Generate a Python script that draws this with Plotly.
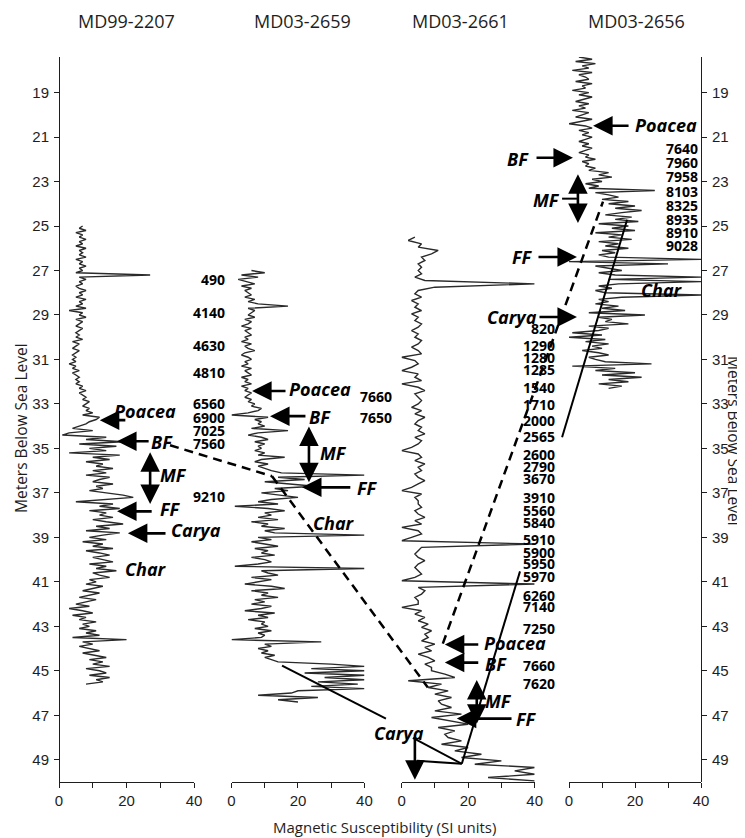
import plotly.graph_objects as go

# ---------------- data ----------------
CORE_NAMES = ["MD99-2207", "MD03-2659", "MD03-2661", "MD03-2656"]
CORE_TOP = [25.0, 27.0, 25.5, 17.4]      # depth of first sample (m below sea level)
SAMPLE_STEP = [0.1, 0.1, 0.15, 0.1]      # sampling interval of each core (m)

MS_MD99_2207 = [
    7, 6, 8, 5, 7, 6, 8, 6, 7, 5,
    8, 6, 7, 6, 8, 5, 7, 6, 8, 6,
    7, 5, 27, 6, 8, 6, 7, 5, 6, 8,
    6, 7, 5, 8, 6, 7, 5, 8, 3, 7,
    6, 8, 5, 7, 6, 5, 7, 6, 5, 6,
    5, 7, 4, 6, 5, 4, 6, 5, 4, 5,
    4, 5, 3, 5, 4, 6, 4, 5, 6, 5,
    6, 5, 7, 6, 8, 6, 7, 8, 7, 9,
    8, 7, 9, 8, 10, 7, 12, 11, 9, 8,
    6, 4, 10, 3, 1, 14, 8, 19, 6, 17,
    9, 14, 3, 18, 10, 15, 8, 13, 11, 16,
    10, 14, 8, 15, 12, 10, 16, 11, 13, 9,
    14, 19, 22, 12, 5, 16, 12, 18, 9, 14,
    12, 16, 10, 14, 19, 11, 15, 8, 18, 13,
    9, 14, 7, 13, 10, 16, 8, 12, 15, 10,
    13, 16, 9, 14, 11, 17, 10, 12, 15, 9,
    11, 8, 13, 10, 7, 12, 9, 6, 11, 8,
    5, 9, 3, 7, 10, 4, 8, 6, 11, 7,
    9, 6, 11, 8, 12, 4, 20, 7, 10, 6,
    9, 12, 7, 11, 14, 9, 13, 10, 15, 8,
    12, 14, 9, 15, 11, 13, 8,
]
MS_MD03_2659 = [
    6, 10, 3, 8, 2, 5, 7, 3, 6, 4,
    5, 6, 4, 7, 5, 8, 17, 5, 7, 6,
    5, 7, 4, 6, 5, 3, 6, 4, 5, 6,
    4, 5, 3, 6, 4, 5, 7, 4, 3, 5,
    6, 4, 5, 3, 6, 4, 5, 6, 3, 5,
    4, 6, 3, 5, 4, 6, 5, 4, 6, 5,
    7, 6, 9, 8, 5, 0, 11, 7, 9, 8,
    10, 6, 17, 8, 5, 9, 11, 7, 10, 8,
    9, 7, 10, 8, 16, 9, 7, 11, 8, 10,
    12, 15, 40, 14, 22, 10, 18, 25, 13, 17,
    9, 15, 20, 12, 8, 14, 1, 11, 16, 10,
    12, 8, 14, 6, 11, 9, 16, 10, 13, 40,
    8, 12, 6, 10, 14, 7, 11, 9, 13, 6,
    10, 12, 8, 1, 40, 9, 11, 14, 6, 12,
    8, 4, 12, 16, 6, 11, 9, 14, 7, 10,
    6, 12, 9, 4, 13, 8, 11, 5, 10, 9,
    11, 7, 12, 8, 10, 9, 0, 27, 10, 12,
    8, 11, 9, 13, 10, 12, 14, 30, 40, 24,
    40, 22, 40, 28, 40, 26, 38, 24, 40, 20,
    18, 8, 26, 14, 20,
]
MS_MD03_2661 = [
    4, 2, 6, 5, 11, 9, 6, 7, 5, 6,
    5, 6, 4, 7, 40, 10, 5, 4, 6, 3,
    5, 4, 6, 3, 5, 4, 6, 5, 3, 5,
    4, 6, 5, 3, 5, 6, 0, 4, 5, 3,
    0, 5, 4, 6, 0, 5, 7, 4, 5, 6,
    5, 3, 6, 4, 7, 5, 4, 6, 5, 7,
    4, 6, 5, 3, 0, 5, 6, 4, 7, 5,
    6, 4, 5, 7, 5, 3, 0, 6, 4, 5,
    5, 6, 4, 5, 7, 4, 6, 0, 5, 6,
    3, 0, 40, 6, 5, 4, 5, 7, 5, 4,
    5, 6, 4, 0, 40, 5, 7, 6, 4, 5,
    5, 0, 6, 4, 7, 5, 8, 6, 9, 7,
    8, 6, 10, 7, 9, 5, 8, 10, 7, 9,
    9, 13, 16, 2, 12, 8, 14, 10, 15, 11,
    12, 15, 10, 18, 9, 14, 20, 11, 16, 13,
    14, 18, 12, 20, 16, 24, 18, 30, 22, 40,
    34, 40, 26, 40,
]
MS_MD03_2656 = [
    3, 7, 2, 8, 4, 6, 1, 7, 3, 5,
    6, 2, 7, 4, 5, 1, 6, 3, 7, 4,
    2, 6, 3, 5, 1, 6, 4, 2, 7, 3,
    0, 5, 7, 3, 6, 4, 7, 5, 3, 6,
    4, 7, 5, 3, 6, 5, 8, 4, 6, 5,
    8, 6, 12, 9, 13, 7, 10, 5, 9, 6,
    26, 8, 12, 15, 10, 18, 12, 20, 14, 22,
    16, 11, 19, 14, 21, 9, 18, 13, 20, 8,
    16, 12, 19, 9, 15, 11, 18, 10, 14, 9,
    12, 40, 0, 30, 8, 12, 16, 9, 14, 40,
    12, 40, 15, 9, 13, 8, 11, 40, 16, 9,
    12, 8, 15, 10, 17, 6, 23, 9, 13, 11,
    18, 6, 12, 9, 1, 10, 0, 11, 5, 12,
    7, 10, 4, 9, 12, 6, 8, 11, 25, 1,
    14, 8, 20, 10, 22, 12, 18, 9, 16, 12,
]
MS_SERIES = [MS_MD99_2207, MS_MD03_2659, MS_MD03_2661, MS_MD03_2656]

DEPTH_RANGE = [50.0, 17.4]
DEPTH_TICKS = list(range(19, 50, 2))
MS_RANGE = [0, 40]
MS_TICKS = [0, 10, 20, 30, 40]
MS_TICK_TEXT = ["0", "", "20", "", "40"]

# radiocarbon ages (label, depth)
DATES_2659 = [("490", 27.42), ("4140", 28.91), ("4630", 30.35), ("4810", 31.57),
              ("6560", 32.96), ("6900", 33.59), ("7025", 34.18), ("7560", 34.77),
              ("9210", 37.15)]
DATES_2661_TOP = [("7660", 32.65), ("7650", 33.60)]
DATES_2661 = [("820", 29.59), ("1290", 30.35), ("1280", 30.89), ("1285", 31.43),
              ("1540", 32.24), ("1710", 33.01), ("2000", 33.73), ("2565", 34.45),
              ("2600", 35.26), ("2790", 35.80), ("3670", 36.34), ("3910", 37.20),
              ("5560", 37.78), ("5840", 38.32), ("5910", 39.09), ("5900", 39.68),
              ("5950", 40.17), ("5970", 40.76), ("6260", 41.61), ("7140", 42.11),
              ("7250", 43.10), ("7660", 44.77), ("7620", 45.58)]
DATES_2656 = [("7640", 21.52), ("7960", 22.15), ("7958", 22.78), ("8103", 23.46),
              ("8325", 24.09), ("8935", 24.72), ("8910", 25.31), ("9028", 25.89)]

# pollen / zone markers: (panel, head value, head depth, tail value, tail depth)
ARROWS = [
    (0, 12.1, 33.73, 20.1, 33.73), (0, 17.2, 34.68, 27.0, 34.68),
    (0, 17.2, 37.83, 27.9, 37.83), (0, 20.4, 38.82, 32.0, 38.82),
    (1, 6.2, 32.42, 16.7, 32.42), (1, 11.6, 33.55, 22.7, 33.55),
    (1, 21.2, 36.75, 36.2, 36.75),
    (2, 13.0, 43.82, 23.5, 43.82), (2, 13.0, 44.63, 23.5, 44.63),
    (2, 16.6, 47.15, 33.5, 47.15), (2, 4.0, 49.9, 4.0, 48.0),
    (3, 7.3, 20.49, 18.5, 20.49), (3, 1.2, 21.93, -10.3, 21.93),
    (3, 2.4, 26.39, -9.7, 26.39), (3, 2.4, 29.09, -9.4, 29.09),
]
# MF double arrows: (panel, value, depth top, depth bottom)
DOUBLE_ARROWS = [(0, 27.0, 35.1, 37.5), (1, 23.3, 33.95, 36.52),
                 (2, 22.6, 45.35, 47.38), (3, 2.7, 22.6, 24.86)]
LABELS = [
    (0, "Poacea", 25.6, 33.32), (0, "BF", 30.5, 34.72), (0, "MF", 33.8, 36.2),
    (0, "FF", 32.9, 37.74), (0, "Carya", 40.6, 38.68), (0, "Char", 25.8, 40.4),
    (1, "Poacea", 26.6, 32.33), (1, "BF", 26.6, 33.59), (1, "MF", 30.8, 35.2),
    (1, "FF", 40.8, 36.8), (1, "Char", 30.8, 38.37),
    (2, "Poacea", 34.1, 43.77), (2, "BF", 28.3, 44.68), (2, "MF", 29.0, 46.35),
    (2, "FF", 37.4, 47.15), (2, "Carya", -0.8, 47.78),
    (3, "Poacea", 29.4, 20.44), (3, "BF", -15.5, 21.97), (3, "MF", -6.7, 23.82),
    (3, "FF", -14.2, 26.39), (3, "Carya", -17.3, 29.09), (3, "Char", 28.2, 27.87),
]
# correlation lines: list of (panel, value, depth) vertices
DASHED_LINES = [
    [(0, 32.9, 34.86), (1, 12.2, 36.25), (2, 7.9, 45.75)],
    [(2, 12.4, 43.78), (3, 10.3, 23.9)],
]
SOLID_LINES = [
    [(1, 15.2, 44.77), (2, -4.7, 47.15)],
    [(2, 3.4, 48.02), (2, 18.1, 49.18)],
    [(2, 4.6, 49.05), (2, 18.1, 49.18)],
    [(2, 18.1, 49.18), (2, 35.6, 40.53)],
    [(3, -2.1, 34.5), (3, 17.6, 24.72)],
    [(3, -2.1, 23.77), (3, 2.4, 23.77)],
]

# ---------------- layout helpers ----------------
PAGE_W, PAGE_H, BODY = 745, 838, 8          # page size and default html body margin
PLOT_L, PLOT_R, PLOT_T, PLOT_B = 59, 701, 57, 782   # plot area in page pixels
W, H = PAGE_W - BODY, PAGE_H - BODY
ML, MT = PLOT_L - BODY, PLOT_T - BODY
MR, MB = W - (PLOT_R - BODY), H - (PLOT_B - BODY)
PW, PH = PLOT_R - PLOT_L, PLOT_B - PLOT_T
DOMAINS = [(0.0, 0.2103), (0.2687, 0.4758), (0.5336, 0.7409), (0.7944, 1.0)]
INK = "#1e1e1e"

TICK_FONT = dict(family="Liberation Sans Narrow, Arial Narrow, Liberation Sans, sans-serif", size=15, color=INK)
TITLE_FONT = dict(family="Open Sans, Noto Sans, sans-serif", size=18, color=INK)
AXTITLE_FONT = dict(family="Open Sans, Noto Sans, sans-serif", size=15, color=INK)
YTITLE_FONT = dict(family="Open Sans, Noto Sans, sans-serif", size=15.5, color=INK)
LABEL_FONT = dict(family="Open Sans, Noto Sans, sans-serif", size=18, color="black", weight=700, style="italic")
DATE_FONT = dict(family="Open Sans, Noto Sans, sans-serif", size=14, color="black", weight=700)


def xname(i):
    return "x" if i == 0 else f"x{i + 1}"


def paper_x(i, v):
    a, b = DOMAINS[i]
    return a + (b - a) * (v - MS_RANGE[0]) / (MS_RANGE[1] - MS_RANGE[0])


def page_to_paper(px, py):
    return (px - PLOT_L) / PW, (PLOT_B - py) / PH


fig = go.Figure()
for i, (top, step, vals) in enumerate(zip(CORE_TOP, SAMPLE_STEP, MS_SERIES)):
    depths = [round(top + step * k, 3) for k in range(len(vals))]
    fig.add_trace(go.Scatter(x=vals, y=depths, mode="lines",
                             line=dict(color="#2a2a2a", width=1.4),
                             xaxis=xname(i), yaxis="y", showlegend=False,
                             hoverinfo="skip"))
# carrier for right-hand depth axis
fig.add_trace(go.Scatter(x=[None], y=[None], xaxis="x4", yaxis="y2",
                         showlegend=False, hoverinfo="skip"))

axis_common = dict(showgrid=False, zeroline=False, showline=True, linecolor=INK,
                   linewidth=1, ticks="outside", ticklen=5, tickwidth=1,
                   tickcolor=INK, tickfont=TICK_FONT)
layout = dict(
    width=W, height=H, margin=dict(l=ML, r=MR, t=MT, b=MB, autoexpand=False),
    paper_bgcolor="white", plot_bgcolor="white", showlegend=False,
    yaxis=dict(domain=[0, 1], range=DEPTH_RANGE, tickvals=DEPTH_TICKS,
               anchor="free", position=0, ticklabelstandoff=2, **axis_common),
    yaxis2=dict(domain=[0, 1], range=DEPTH_RANGE, tickvals=DEPTH_TICKS,
                overlaying="y", side="right", anchor="free", position=1,
                ticklabelstandoff=2, **axis_common),
)
for i in range(4):
    key = "xaxis" if i == 0 else f"xaxis{i + 1}"
    layout[key] = dict(domain=list(DOMAINS[i]), range=MS_RANGE, tickvals=MS_TICKS,
                       ticktext=MS_TICK_TEXT, anchor="y", **axis_common)
fig.update_layout(**layout)

# panel titles
TITLE_X = [20.1, 21.5, 17.8, 20.6]
for i, name in enumerate(CORE_NAMES):
    fig.add_annotation(x=paper_x(i, TITLE_X[i]), y=page_to_paper(0, 21)[1],
                       xref="paper", yref="paper", text=name, showarrow=False,
                       font=TITLE_FONT, xanchor="center", yanchor="middle")

# axis titles
tx, ty = page_to_paper(385, 827)
fig.add_annotation(x=tx, y=ty, xref="paper", yref="paper",
                   text="Magnetic Susceptibility (SI units)", showarrow=False,
                   font=AXTITLE_FONT, xanchor="center", yanchor="middle")
tx, ty = page_to_paper(21, 428)
fig.add_annotation(x=tx, y=ty, xref="paper", yref="paper",
                   text="Meters Below Sea Level", showarrow=False, textangle=-90,
                   font=YTITLE_FONT, xanchor="center", yanchor="middle", borderpad=0)
tx, ty = page_to_paper(734, 441)
fig.add_annotation(x=tx, y=ty, xref="paper", yref="paper",
                   text="Meters Below Sea Level", showarrow=False, textangle=90,
                   font=YTITLE_FONT, xanchor="center", yanchor="middle", borderpad=0)

# correlation lines
for pts in DASHED_LINES:
    for (p0, v0, d0), (p1, v1, d1) in zip(pts[:-1], pts[1:]):
        fig.add_shape(type="line", xref="paper", yref="y",
                      x0=paper_x(p0, v0), y0=d0, x1=paper_x(p1, v1), y1=d1,
                      line=dict(color="black", width=2.5, dash="9px,6px"))
for pts in SOLID_LINES:
    for (p0, v0, d0), (p1, v1, d1) in zip(pts[:-1], pts[1:]):
        fig.add_shape(type="line", xref="paper", yref="y",
                      x0=paper_x(p0, v0), y0=d0, x1=paper_x(p1, v1), y1=d1,
                      line=dict(color="black", width=2))

# arrows
for i, hv, hd, tv, td in ARROWS:
    fig.add_annotation(x=hv, y=hd, xref=xname(i), yref="y", ax=tv, ay=td,
                       axref=xname(i), ayref="y", text="", showarrow=True,
                       arrowhead=2, arrowsize=1.5, arrowwidth=2.6,
                       arrowcolor="black", standoff=0)
for i, v, dt, db in DOUBLE_ARROWS:
    fig.add_annotation(x=v, y=db, xref=xname(i), yref="y", ax=v, ay=dt,
                       axref=xname(i), ayref="y", text="", showarrow=True,
                       arrowhead=2, startarrowhead=2, arrowside="end+start",
                       arrowsize=1.5, startarrowsize=1.5, arrowwidth=2.6,
                       arrowcolor="black", standoff=0, startstandoff=0)

# marker labels (paper x so that labels outside a panel's range still show)
for i, t, v, d in LABELS:
    fig.add_annotation(x=paper_x(i, v), y=d, xref="paper", yref="y", text=t,
                       showarrow=False, font=LABEL_FONT,
                       xanchor="center", yanchor="middle")

# ages
for dates, panel, v in [(DATES_2659, 1, -1.4), (DATES_2661_TOP, 2, -2.3),
                        (DATES_2661, 3, -3.6), (DATES_2656, 3, 39.7)]:
    for lab, d in dates:
        fig.add_annotation(x=paper_x(panel, v), y=d, xref="paper", yref="y",
                           text=lab, showarrow=False, font=DATE_FONT,
                           xanchor="right", yanchor="middle")

fig.write_html("out.html")
